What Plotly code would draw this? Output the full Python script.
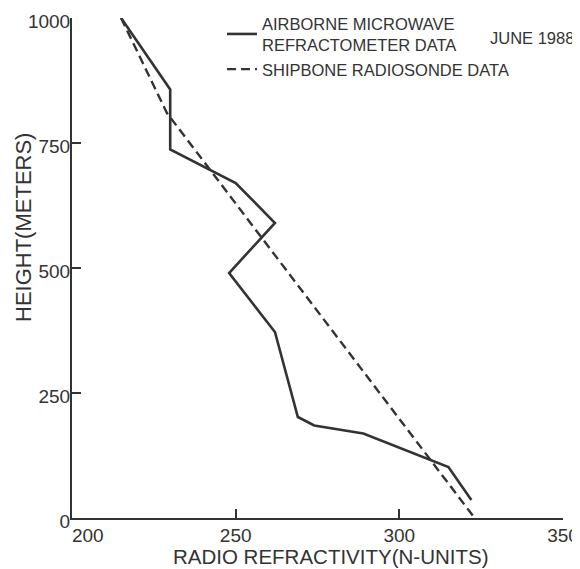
import plotly.graph_objects as go

# Airborne microwave refractometer profile (N-units, meters)
airborne_n = [215, 230, 230, 250, 262, 248, 262, 269, 274, 289, 315, 322]
airborne_h = [1000, 857, 737, 670, 590, 490, 372, 202, 185, 169, 102, 36]

# Shipborne radiosonde profile
radiosonde_n = [215, 229, 323]
radiosonde_h = [1000, 810, 0]

x_ticks = [200, 250, 300, 350]
x_tick_text = ["\u00a0" * 6 + "200", "250", "300", "350"]
y_ticks = [0, 250, 500, 750, 1000]

INK = "#333333"
FONT = "Liberation Sans, Arial, sans-serif"

fig = go.Figure()
fig.add_trace(go.Scatter(
    x=airborne_n, y=airborne_h, mode="lines",
    name="AIRBORNE MICROWAVE<br>REFRACTOMETER DATA",
    line=dict(color=INK, width=2.6),
))
fig.add_trace(go.Scatter(
    x=radiosonde_n, y=radiosonde_h, mode="lines",
    name="SHIPBONE RADIOSONDE DATA",
    line=dict(color=INK, width=2.4, dash="9px,5px"),
))

# The page has an 8px body margin, so the figure is 8px smaller than the window.
fig.update_layout(
    width=572, height=561,
    margin=dict(l=64, r=17, t=9.5, b=50.5, autoexpand=False),
    paper_bgcolor="white", plot_bgcolor="white",
    font=dict(family=FONT, color=INK),
    showlegend=True,
    legend=dict(
        x=0.3055, y=1.024, xanchor="left", yanchor="top",
        bgcolor="rgba(0,0,0,0)", borderwidth=0,
        font=dict(size=16.5, family=FONT, color=INK),
        tracegroupgap=0,
    ),
    xaxis=dict(
        range=[200, 350], tickvals=x_ticks, ticktext=x_tick_text,
        showgrid=False, zeroline=False, showline=True, linecolor=INK, linewidth=2,
        ticks="inside", ticklen=9, tickwidth=2, tickcolor=INK,
        ticklabelstandoff=-1, ticklabeloverflow="allow",
        tickfont=dict(size=19, family=FONT, color=INK),
    ),
    yaxis=dict(
        range=[0, 1000], tickvals=y_ticks, ticktext=[str(v) for v in y_ticks],
        showgrid=False, zeroline=False, showline=True, linecolor=INK, linewidth=2,
        ticks="inside", ticklen=9, tickwidth=2, tickcolor=INK,
        ticklabelstandoff=-4, ticklabelshift=3, ticklabeloverflow="allow",
        tickfont=dict(size=19, family=FONT, color=INK),
    ),
    annotations=[
        dict(text="HEIGHT(METERS)", xref="paper", yref="paper",
             x=-0.0998, y=0.582, xanchor="center", yanchor="middle",
             textangle=-90, showarrow=False,
             font=dict(size=22, family=FONT, color=INK)),
        dict(text="RADIO REFRACTIVITY(N-UNITS)", xref="paper", yref="paper",
             x=0.527, y=-0.0778, xanchor="center", yanchor="middle",
             showarrow=False, font=dict(size=20.5, family=FONT, color=INK)),
        dict(text="JUNE 1988", xref="paper", yref="paper",
             x=0.847, y=0.961, xanchor="left", yanchor="middle",
             showarrow=False, font=dict(size=16.5, family=FONT, color=INK)),
    ],
)

fig.write_html("out.html")
